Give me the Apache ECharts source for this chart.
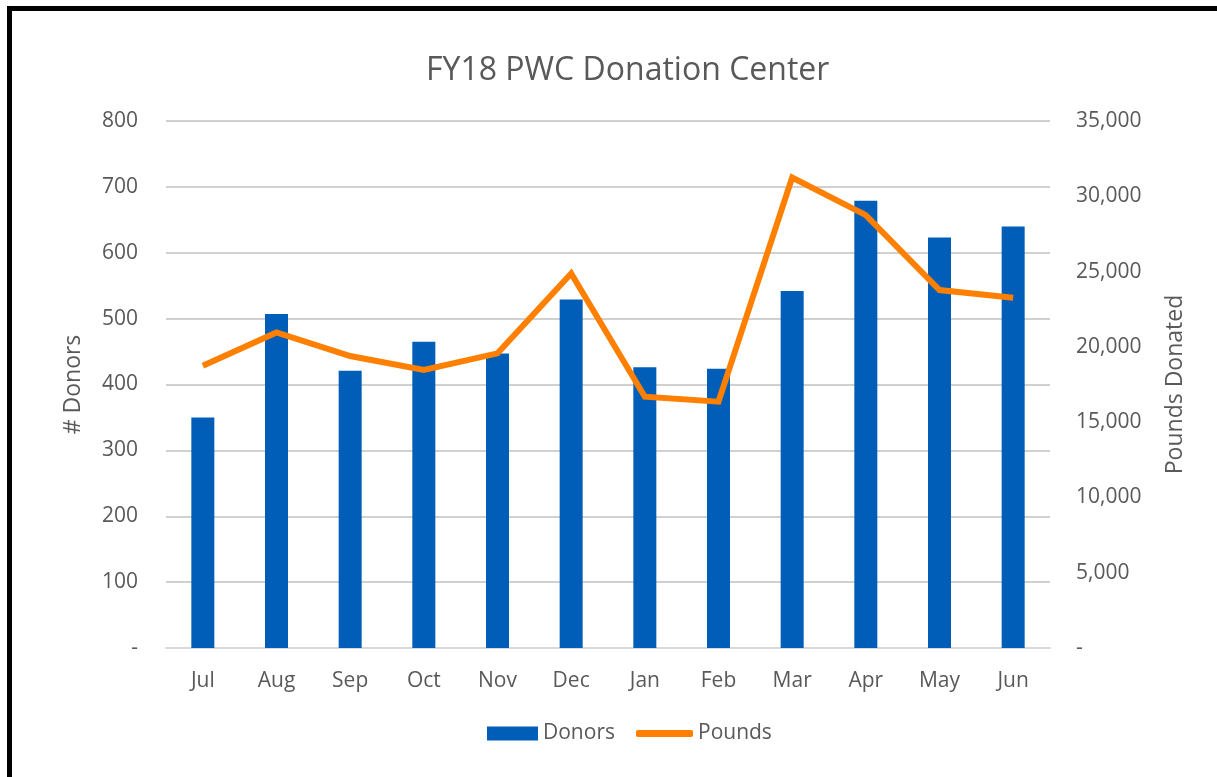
<!DOCTYPE html>
<html><head><meta charset="utf-8">
<script src="https://cdn.jsdelivr.net/npm/echarts@6/dist/echarts.min.js"></script>
<style>
html,body{margin:0;padding:0;background:#fff;overflow:hidden}
#frame{position:absolute;left:7px;top:6px;width:1230px;height:800px;border-left:5px solid #000;border-top:5px solid #000;box-sizing:border-box}
#c{position:absolute;left:0;top:0;width:1217px;height:777px}
</style></head>
<body>
<div id="frame"></div>
<div id="c"></div>
<script>
var months = ['Jul','Aug','Sep','Oct','Nov','Dec','Jan','Feb','Mar','Apr','May','Jun'];
var donors = [350, 507, 421, 465, 447, 529, 426, 424, 542, 679, 623, 640];
var pounds = [18750, 20960, 19390, 18460, 19570, 24880, 16690, 16360, 31250, 28750, 23770, 23260];

var FONT = '"Open Sans", "Liberation Sans", sans-serif';
var GREY = '#595959';
var chart = echarts.init(document.getElementById('c'), null, {renderer:'canvas'});
chart.setOption({
  animation:false,
  backgroundColor:'transparent',
  title:{text:'FY18 PWC Donation Center', left:421, top:50,
    textStyle:{fontFamily:FONT, fontSize:32, fontWeight:'normal', color:GREY}},
  legend:[
    {left:487, top:723, itemWidth:51, itemHeight:14, padding:0,
      textStyle:{fontFamily:FONT, fontSize:21, color:GREY},
      data:[{name:'Donors', icon:'rect'}]},
    {left:636, top:723, itemWidth:57, itemHeight:7, padding:0,
      textStyle:{fontFamily:FONT, fontSize:21, color:GREY},
      data:[{name:'Pounds', icon:'roundRect'}]}
  ],
  grid:{left:166, right:167, top:121, bottom:129, containLabel:false},
  xAxis:{type:'category', data:months,
    axisLine:{lineStyle:{color:'#d9d9d9', width:2}},
    axisTick:{show:false},
    axisLabel:{fontFamily:FONT, fontSize:21, color:GREY, margin:23}},
  yAxis:[{type:'value', min:0, max:800, interval:100,
    name:'# Donors', nameLocation:'middle', nameGap:81, nameRotate:90,
    nameTextStyle:{fontFamily:FONT, fontSize:23, color:GREY},
    axisLine:{show:false}, axisTick:{show:false},
    axisLabel:{fontFamily:FONT, fontSize:21, color:GREY, margin:28,
      formatter:function(v){return v===0?'-':String(v);}},
    splitLine:{lineStyle:{color:'#d0d0d0', width:2}}},
   {type:'value', min:0, max:35000, interval:5000,
    name:'Pounds Donated', nameLocation:'middle', nameGap:114, nameRotate:90,
    nameTextStyle:{fontFamily:FONT, fontSize:23, color:GREY},
    axisLine:{show:false}, axisTick:{show:false},
    axisLabel:{fontFamily:FONT, fontSize:21, color:GREY, margin:26,
      formatter:function(v){return v===0?'-':v.toLocaleString('en-US');}},
    splitLine:{show:false}}],
  series:[
    {name:'Donors', type:'bar', data:donors, barWidth:23, yAxisIndex:0,
      itemStyle:{color:'#005eb8'}},
    {name:'Pounds', type:'line', data:pounds, yAxisIndex:1, symbol:'none',
      lineStyle:{color:'#ff8000', width:6, join:'miter'}, itemStyle:{color:'#ff8000'}}
  ]
});
</script>
</body></html>
